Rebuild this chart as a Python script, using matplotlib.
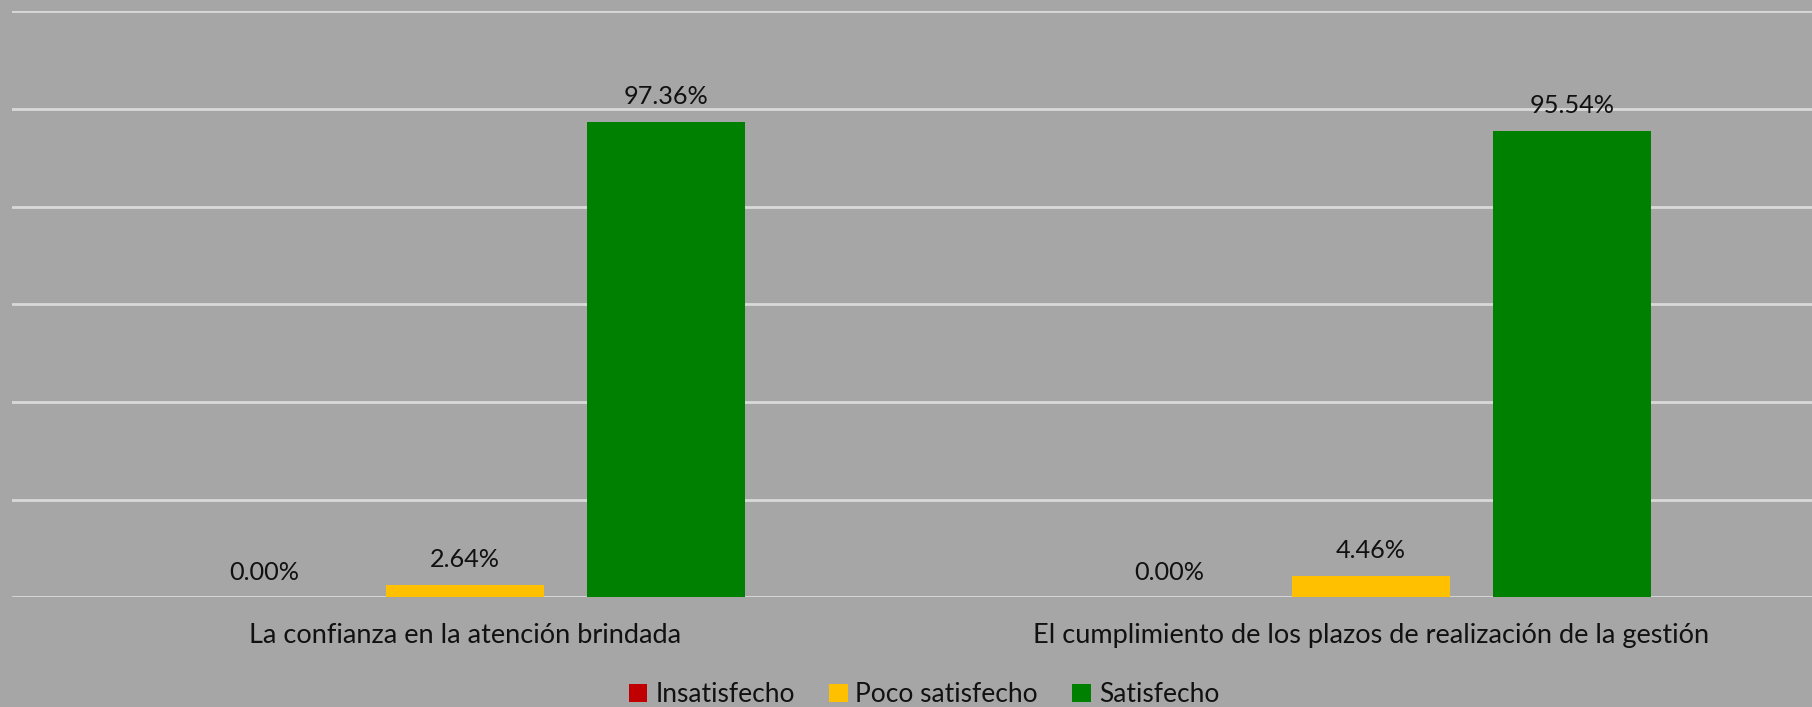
import numpy as np
import matplotlib
matplotlib.use('Agg')
import matplotlib.pyplot as plt
from matplotlib.patches import Patch

# Survey results per aspect (percent)
categories = ['La confianza en la atención brindada',
              'El cumplimiento de los plazos de realización de la gestión']
series_names = ['Insatisfecho', 'Poco satisfecho', 'Satisfecho']
insatisfecho = [0.00, 0.00]
poco_satisfecho = [2.64, 4.46]
satisfecho = [97.36, 95.54]
colors = ['#C00000', '#FFC000', '#008000']

plt.rcParams['font.family'] = ['Lato', 'DejaVu Sans']

bg = '#A6A6A6'
fig = plt.figure(figsize=(18.12, 7.07), dpi=100, facecolor=bg)
ax = fig.add_axes([12 / 1812, 0.1549, 1 - 12 / 1812, 0.8289], facecolor=bg)

x = np.arange(len(categories))
width = 0.174
step = 0.222
series = [insatisfecho, poco_satisfecho, satisfecho]

for i, (vals, col) in enumerate(zip(series, colors)):
    pos = x + (i - 1) * step
    bars = ax.bar(pos, vals, width, color=col, zorder=3)
    for b, v in zip(bars, vals):
        ax.annotate(f'{v:.2f}%', (b.get_x() + b.get_width() / 2, v),
                    xytext=(0, 10), textcoords='offset points',
                    ha='center', va='bottom', fontsize=18.2, color='#111111')

ax.set_ylim(0, 120)
ax.set_xlim(-0.5, 1.487)
ax.set_yticks(np.arange(0, 121, 20))
ax.yaxis.grid(True, color='#D9D9D9', linewidth=2)
ax.set_axisbelow(True)
ax.tick_params(axis='y', left=False, labelleft=False)
ax.tick_params(axis='x', bottom=False, pad=15)
ax.set_xticks(x)
ax.set_xticklabels(categories, fontsize=19.5, color='#111111')
for s in ax.spines.values():
    s.set_visible(False)

handles = [Patch(facecolor=c, edgecolor='none') for c in colors]
fig.legend(handles, series_names, loc='center', bbox_to_anchor=(924 / 1812, 0.017),
           ncol=3, frameon=False, fontsize=19, handlelength=0.7, handleheight=0.7,
           handletextpad=0.3, columnspacing=1.3, labelcolor='#111111')

fig.savefig('out.png', dpi=100, facecolor=bg)
